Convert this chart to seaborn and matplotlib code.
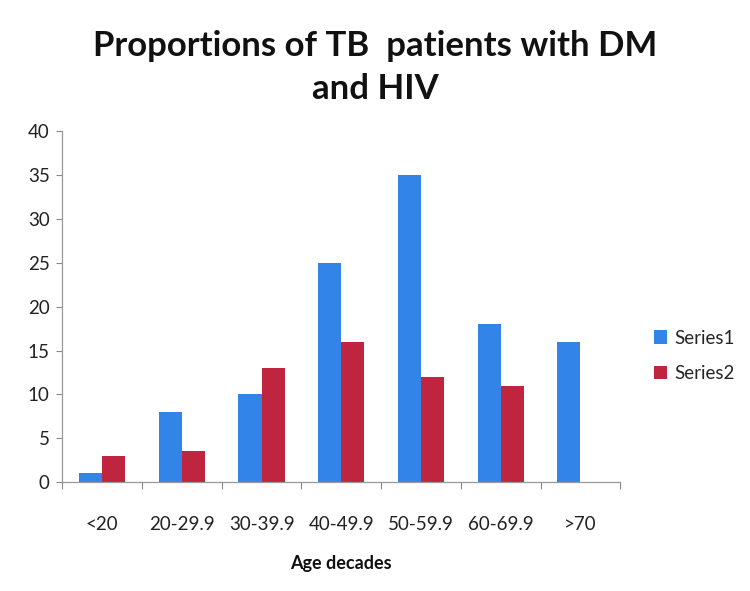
import numpy as np
import pandas as pd
import matplotlib
matplotlib.use("Agg")
import matplotlib.pyplot as plt
import seaborn as sns
from matplotlib.ticker import FixedLocator

# data
age_groups = ["<20", "20-29.9", "30-39.9", "40-49.9", "50-59.9", "60-69.9", ">70"]
series1 = [1, 8, 10, 25, 35, 18, 16]
series2 = [3, 3.6, 13, 16, 12, 11, np.nan]
series_names = ["Series1", "Series2"]
y_ticks = [0, 5, 10, 15, 20, 25, 30, 35, 40]

df = pd.DataFrame({
    "age": age_groups * 2,
    "value": series1 + series2,
    "series": [series_names[0]] * len(age_groups) + [series_names[1]] * len(age_groups),
})

sns.set_theme(style="white")
plt.rcParams["font.family"] = ["Lato", "DejaVu Sans"]

fig = plt.figure(figsize=(7.5, 5.91), dpi=100)
ax = fig.add_axes([0.083, 0.184, 0.744, 0.594])

palette = {"Series1": "#3284E8", "Series2": "#C0253F"}
sns.barplot(data=df, x="age", y="value", hue="series", order=age_groups,
            hue_order=series_names, palette=palette, width=0.58,
            saturation=1, ax=ax, errorbar=None, linewidth=0)

ax.set_ylim(0, 40)
ax.set_xlim(-0.5, len(age_groups) - 0.5)
ax.set_yticks(y_ticks)
ax.tick_params(axis="y", labelsize=13.5, colors="#222222", length=4, width=0.8,
               left=True, direction="out", color="#888888", pad=5)
ax.tick_params(axis="x", which="major", labelsize=13.5, colors="#222222",
               length=0, pad=24)
ax.xaxis.set_minor_locator(FixedLocator(np.arange(-0.5, len(age_groups), 1.0)))
ax.tick_params(axis="x", which="minor", length=5, width=0.8, color="#888888",
               bottom=True, direction="out")

for side in ["top", "right"]:
    ax.spines[side].set_visible(False)
for side in ["left", "bottom"]:
    ax.spines[side].set_color("#999999")
    ax.spines[side].set_linewidth(0.9)

ax.set_ylabel("")
ax.set_xlabel("Age decades", fontsize=13, fontweight="bold", labelpad=16,
              color="#111111")

fig.suptitle("Proportions of TB  patients with DM\nand HIV", x=0.5, y=0.95,
             fontsize=25, fontweight="bold", color="#111111", linespacing=1.45)

leg = ax.legend(loc="center left", bbox_to_anchor=(1.03, 0.36), frameon=False,
                fontsize=13.5, handlelength=0.7, handleheight=0.7,
                handletextpad=0.4, labelspacing=1.0)

fig.savefig("out.png", dpi=100)
